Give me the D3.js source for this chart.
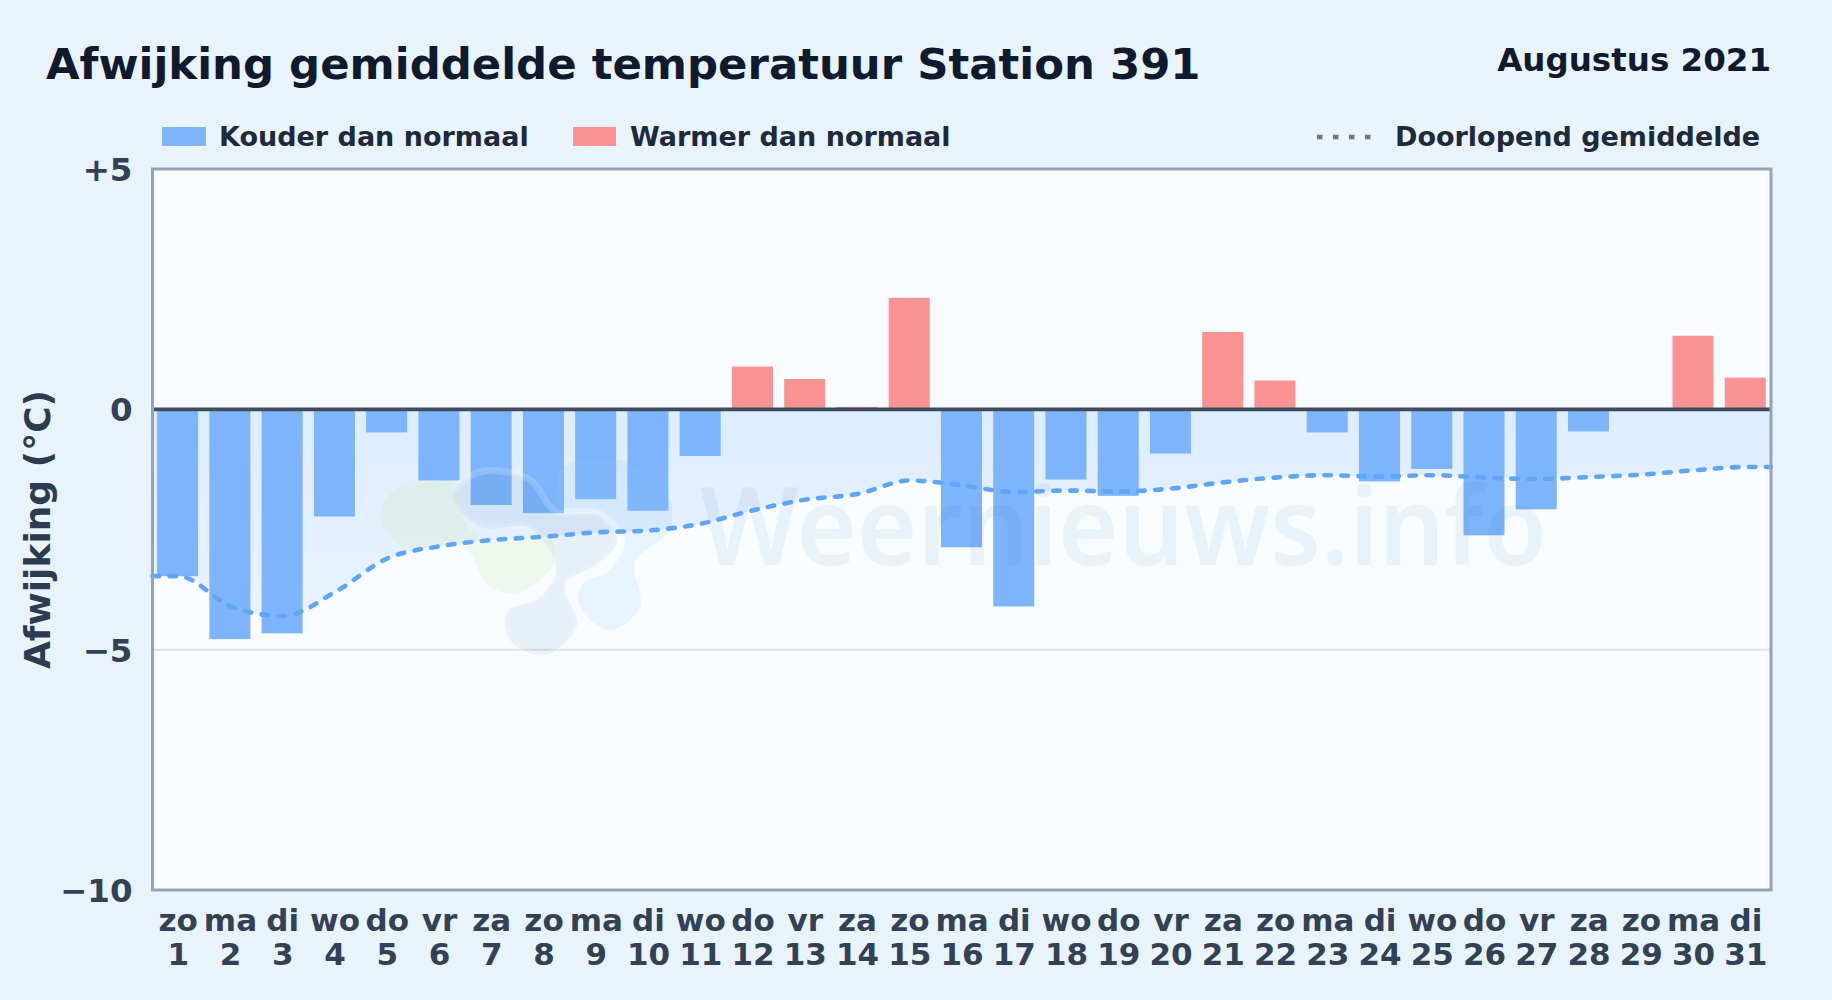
<!DOCTYPE html>
<html>
<head>
<meta charset="utf-8">
<script src="https://cdn.jsdelivr.net/npm/d3@7"></script>
<style>
html, body { margin: 0; padding: 0; background: #e8f3fc; }
svg { display: block; font-family: 'DejaVu Sans', sans-serif; font-weight: 700; }
</style>
</head>
<body>
<div id="chart"></div>
<script>
// Afwijking gemiddelde temperatuur
const days = [1, 2, 3, 4, 5, 6, 7, 8, 9, 10, 11, 12, 13, 14, 15, 16, 17, 18, 19, 20, 21, 22, 23, 24, 25, 26, 27, 28, 29, 30, 31];
const weekdays = ['zo', 'ma', 'di', 'wo', 'do', 'vr', 'za', 'zo', 'ma', 'di', 'wo', 'do', 'vr', 'za', 'zo', 'ma', 'di', 'wo', 'do', 'vr', 'za', 'zo', 'ma', 'di', 'wo', 'do', 'vr', 'za', 'zo', 'ma', 'di'];
const deviation = [-3.47, -4.78, -4.66, -2.23, -0.48, -1.48, -1.99, -2.16, -1.87, -2.11, -0.97, 0.89, 0.63, 0.05, 2.32, -2.87, -4.1, -1.46, -1.8, -0.92, 1.61, 0.6, -0.48, -1.5, -1.24, -2.62, -2.08, -0.46, 0, 1.53, 0.66];
const runningMean = [-3.47, -4.1, -4.3, -3.8, -3.1, -2.85, -2.72, -2.65, -2.56, -2.52, -2.38, -2.1, -1.88, -1.76, -1.48, -1.58, -1.72, -1.69, -1.71, -1.65, -1.52, -1.42, -1.37, -1.4, -1.37, -1.42, -1.45, -1.41, -1.36, -1.27, -1.2];
const yTicks = [5, 0, -5, -10];

const width = 1832, height = 1000;
const plot = { left: 152.5, right: 1771, top: 169, bottom: 890 };

const svg = d3.select('#chart').append('svg')
    .attr('width', width)
    .attr('height', height);

const defs = svg.append('defs');

svg.append('rect').attr('width', width).attr('height', height).attr('fill', '#e8f3fc');
svg.append('rect')
    .attr('x', plot.left).attr('y', plot.top)
    .attr('width', plot.right - plot.left).attr('height', plot.bottom - plot.top)
    .attr('fill', '#f8fcff');

// Scales
const x = d3.scaleBand()
    .domain(days)
    .range([plot.left - 0.6, plot.right])
    .paddingInner(0.215)
    .paddingOuter(0.1);
const xLine = d3.scaleLinear()
    .domain([0.5, 31.5])
    .range([plot.left, plot.right]);
const y = d3.scaleLinear()
    .domain([5, -10])
    .range([plot.top, plot.bottom]);

const areaGrad = defs.append('linearGradient').attr('id', 'areaFill')
    .attr('gradientUnits', 'userSpaceOnUse')
    .attr('x1', 0).attr('y1', y(0)).attr('x2', 0).attr('y2', y(-4.5));
areaGrad.append('stop').attr('offset', 0).attr('stop-color', '#60a5fa').attr('stop-opacity', 0.18);
areaGrad.append('stop').attr('offset', 1).attr('stop-color', '#60a5fa').attr('stop-opacity', 0.1);

// Line runs on to both plot edges
const lineDays = [0.5, ...days, 31.5];
const lineValues = [runningMean[0], ...runningMean, runningMean[30]];
const linePoints = lineDays.map((d, i) => ({ day: d, value: lineValues[i] }));

svg.append('path')
    .datum(linePoints)
    .attr('fill', 'url(#areaFill)')
    .attr('d', d3.area()
        .x(d => xLine(d.day))
        .y0(y(0))
        .y1(d => y(d.value))
        .curve(d3.curveMonotoneX));

// Grid
svg.append('line')
    .attr('x1', plot.left).attr('x2', plot.right)
    .attr('y1', y(-5)).attr('y2', y(-5))
    .attr('stroke', '#dfe5ea').attr('stroke-width', 2);

// Bars
svg.append('g')
    .selectAll('rect')
    .data(days)
    .join('rect')
    .attr('x', d => x(d))
    .attr('width', x.bandwidth())
    .attr('y', (d, i) => y(Math.max(deviation[i], 0)))
    .attr('height', (d, i) => Math.abs(y(deviation[i]) - y(0)))
    .attr('fill', (d, i) => deviation[i] < 0 ? '#7db4fb' : '#f99292');

// Watermark
const blob = d3.line().curve(d3.curveCatmullRomClosed.alpha(0.5));
const mark = svg.append('g').attr('pointer-events', 'none');
mark.append('path')
    .attr('d', blob([[560, 470], [620, 460], [670, 500], [668, 532], [635, 562], [640, 607], [610, 630], [580, 607], [582, 585], [610, 570], [625, 540], [600, 510], [560, 505]]))
    .attr('fill', '#8ec8f8').attr('fill-opacity', 0.16);
mark.append('path')
    .attr('d', blob([[452, 495], [480, 472], [530, 480], [556, 512], [600, 516], [617, 540], [600, 562], [565, 585], [577, 625], [545, 655], [510, 640], [507, 612], [540, 597], [556, 570], [530, 528], [480, 527]]))
    .attr('fill', '#3f6ea8').attr('fill-opacity', 0.09)
    .attr('stroke', '#f8fcff').attr('stroke-opacity', 0.18).attr('stroke-width', 7);
mark.append('path')
    .attr('d', blob([[380, 515], [395, 490], [450, 483], [470, 530], [510, 540], [548, 535], [553, 565], [515, 593], [488, 585], [465, 548], [400, 545]]))
    .attr('fill', '#d8eac4').attr('fill-opacity', 0.3);
mark.append('text')
    .attr('x', 700).attr('y', 565)
    .attr('font-family', "'Noto Sans', sans-serif")
    .attr('font-size', 108)
    .attr('font-weight', 600)
    .attr('textLength', 847)
    .attr('lengthAdjust', 'spacingAndGlyphs')
    .attr('fill', '#2f6aa8')
    .attr('fill-opacity', 0.07)
    .text('Weernieuws.info');

// Running mean
svg.append('path')
    .datum(linePoints)
    .attr('fill', 'none')
    .attr('stroke', '#60a5fa')
    .attr('stroke-width', 4.6)
    .attr('stroke-linecap', 'round')
    .attr('stroke-dasharray', '6.5 10.5')
    .attr('d', d3.line()
        .x(d => xLine(d.day))
        .y(d => y(d.value))
        .curve(d3.curveMonotoneX));

// Zero line and frame
svg.append('line')
    .attr('x1', plot.left).attr('x2', plot.right)
    .attr('y1', y(0)).attr('y2', y(0))
    .attr('stroke', '#3f4b5e').attr('stroke-width', 3.8);
svg.append('rect')
    .attr('x', plot.left).attr('y', plot.top)
    .attr('width', plot.right - plot.left).attr('height', plot.bottom - plot.top)
    .attr('fill', 'none')
    .attr('stroke', '#94a3b8').attr('stroke-width', 3);

// Axes
const yAxis = d3.axisLeft(y)
    .tickValues(yTicks)
    .tickSize(0)
    .tickPadding(20)
    .tickFormat(d => d > 0 ? '+' + d : d < 0 ? '\u2212' + Math.abs(d) : '0');
svg.append('g')
    .attr('transform', `translate(${plot.left},1)`)
    .call(yAxis)
    .call(g => g.select('.domain').remove())
    .selectAll('text')
    .attr('font-family', "'DejaVu Sans', sans-serif")
    .attr('font-size', 32.5)
    .attr('font-weight', 700)
    .attr('fill', '#334155');

const xAxis = d3.axisBottom(x).tickSize(0).tickFormat('');
const xg = svg.append('g')
    .attr('transform', `translate(0,${plot.bottom})`)
    .call(xAxis)
    .call(g => g.select('.domain').remove());
xg.selectAll('.tick text').each(function(d, i) {
    const t = d3.select(this)
        .attr('y', 0).attr('dy', null)
        .attr('font-family', "'DejaVu Sans', sans-serif")
        .attr('font-size', 31)
        .attr('font-weight', 700)
        .attr('fill', '#334155');
    t.append('tspan').attr('x', 0.6).attr('y', 41).text(weekdays[i]);
    t.append('tspan').attr('x', 0.6).attr('y', 75).text(days[i]);
});

svg.append('text')
    .attr('transform', `translate(49.5,${(plot.top + plot.bottom) / 2}) rotate(-90)`)
    .attr('text-anchor', 'middle')
    .attr('font-size', 36)
    .attr('fill', '#2d3b50')
    .text('Afwijking (°C)');

// Title
svg.append('text')
    .attr('x', 46).attr('y', 78.5)
    .attr('font-size', 43.4)
    .attr('fill', '#0f1a2e')
    .text('Afwijking gemiddelde temperatuur Station 391');
svg.append('text')
    .attr('x', 1771).attr('y', 71)
    .attr('text-anchor', 'end')
    .attr('font-size', 32.5)
    .attr('fill', '#0f1a2e')
    .text('Augustus 2021');

// Legend
const legendColor = '#1e293b';
const legendY = 146;
svg.append('rect').attr('x', 162).attr('y', 127).attr('width', 44).attr('height', 19).attr('fill', '#7db4fb');
svg.append('text').attr('x', 219).attr('y', legendY).attr('font-size', 27).attr('fill', legendColor).text('Kouder dan normaal');
svg.append('rect').attr('x', 573).attr('y', 127).attr('width', 43).attr('height', 19).attr('fill', '#f99292');
svg.append('text').attr('x', 630).attr('y', legendY).attr('font-size', 27).attr('fill', legendColor).text('Warmer dan normaal');
svg.append('line')
    .attr('x1', 1317).attr('x2', 1375)
    .attr('y1', 137).attr('y2', 137)
    .attr('stroke', '#6b7686').attr('stroke-width', 4.5)
    .attr('stroke-dasharray', '5.5 10.5');
svg.append('text').attr('x', 1395).attr('y', legendY).attr('font-size', 27).attr('fill', legendColor).text('Doorlopend gemiddelde');
</script>
</body>
</html>
